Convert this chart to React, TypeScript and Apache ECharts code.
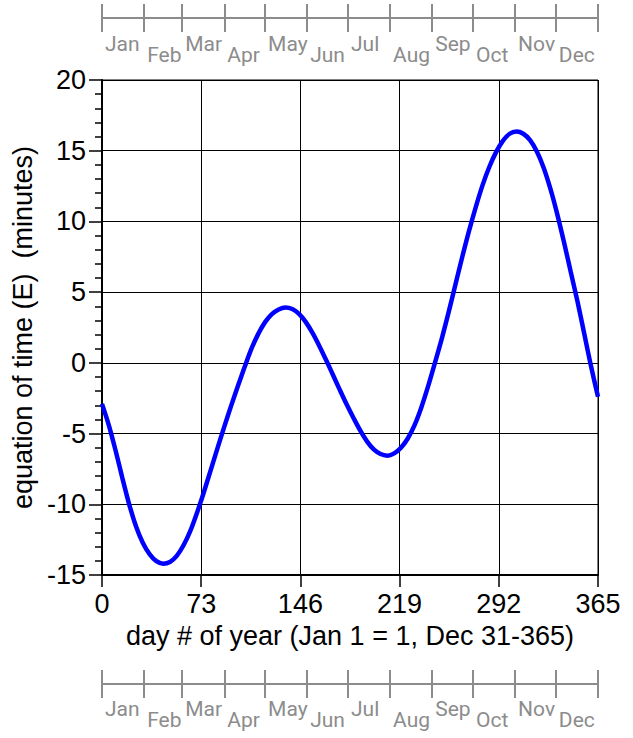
import React, { useEffect, useRef } from "react";
import * as echarts from "echarts";

// Day of year (every 5 days) and equation of time (minutes)
const DAYS = [
  0, 5, 10, 15, 20, 25, 30, 35, 40, 45, 50, 55, 60, 65, 70, 75, 80, 85, 90, 95,
  100, 105, 110, 115, 120, 125, 130, 135, 140, 145, 150, 155, 160, 165, 170,
  175, 180, 185, 190, 195, 200, 205, 210, 215, 220, 225, 230, 235, 240, 245,
  250, 255, 260, 265, 270, 275, 280, 285, 290, 295, 300, 305, 310, 315, 320,
  325, 330, 335, 340, 345, 350, 355, 360, 365,
];
const EOT = [
  -2.9, -4.4, -6.2, -8.15, -10.0, -11.55, -12.72, -13.52, -14.02, -14.2,
  -14.08, -13.65, -12.9, -11.88, -10.58, -9.13, -7.58, -6.03, -4.51, -3.04,
  -1.64, -0.28, 1.0, 2.05, 2.88, 3.45, 3.78, 3.92, 3.81, 3.46, 2.88, 2.1, 1.18,
  0.18, -0.86, -1.91, -2.93, -3.88, -4.78, -5.55, -6.12, -6.45, -6.56, -6.4,
  -6.0, -5.35, -4.4, -3.15, -1.65, 0.0,
  1.7, 3.55, 5.5, 7.45, 9.3, 11.0, 12.55, 13.85, 14.9, 15.7, 16.2, 16.35,
  16.2, 15.75, 14.95, 13.8, 12.3, 10.52, 8.52, 6.4, 4.3, 2.0, -0.3, -2.4,
];

const X_MIN = 0;
const X_MAX = 365;
const X_STEP = 73;
const Y_MIN = -15;
const Y_MAX = 20;
const Y_STEP = 5;

const MONTHS = ["Jan", "Feb", "Mar", "Apr", "May", "Jun", "Jul", "Aug", "Sep", "Oct", "Nov", "Dec"];
const MONTH_STARTS = [0, 31, 59, 90, 120, 151, 181, 212, 243, 273, 304, 334];
const MONTH_EDGES = [...MONTH_STARTS, 365];

const X_NAME = "day # of year (Jan 1 = 1, Dec 31-365)";
const Y_NAME = "equation of time (E)  (minutes)";

const GRAY = "#8c8c8c";
const MAIN_FONT = "'Liberation Sans', Arial, Helvetica, sans-serif";
const MONTH_FONT = "Roboto, 'Liberation Sans', sans-serif";

function monthAxes(gridIndex: number, hiMargin: number, loMargin: number) {
  const hi = MONTH_STARTS.filter((_, i) => i % 2 === 0);
  const lo = MONTH_STARTS.filter((_, i) => i % 2 === 1);
  const fmt = (v: number) => MONTHS[MONTH_STARTS.indexOf(v)] ?? "";
  const base = {
    gridIndex,
    type: "value",
    min: X_MIN,
    max: X_MAX,
    position: "bottom",
    splitLine: { show: false },
    silent: true,
  };
  const labelStyle = {
    show: true,
    align: "left",
    color: GRAY,
    fontSize: 21,
    fontFamily: MONTH_FONT,
    padding: [0, 0, 0, 3],
    formatter: fmt,
  };
  return [
    {
      ...base,
      axisLine: { show: true, lineStyle: { color: GRAY, width: 2 } },
      axisTick: { show: true, inside: false, length: 14, customValues: MONTH_EDGES, lineStyle: { color: GRAY, width: 2 } },
      axisLabel: { ...labelStyle, customValues: hi, margin: hiMargin },
    },
    {
      ...base,
      axisLine: { show: false },
      axisTick: { show: true, inside: true, length: 14, customValues: MONTH_EDGES, lineStyle: { color: GRAY, width: 2 } },
      axisLabel: { show: false },
    },
    {
      ...base,
      axisLine: { show: false },
      axisTick: { show: false },
      axisLabel: { ...labelStyle, customValues: lo, margin: loMargin },
    },
  ];
}

export default function App() {
  const ref = useRef<HTMLDivElement>(null);
  useEffect(() => {
    if (!ref.current) return;
    const chart = echarts.init(ref.current, null, { renderer: "svg" });
    const data = DAYS.map((d, i) => [d, EOT[i]]);
    chart.setOption({
      animation: false,
      backgroundColor: "#ffffff",
      grid: [
        { left: 102, right: 35, top: 80, bottom: 163, show: true, borderColor: "#000", borderWidth: 1, containLabel: false },
        { left: 102, right: 35, top: 18, height: 0 },
        { left: 102, right: 35, top: 684, height: 0 },
      ],
      xAxis: [
        {
          gridIndex: 0,
          type: "value",
          min: X_MIN,
          max: X_MAX,
          interval: X_STEP,
          position: "bottom",
          axisLine: { show: true, onZero: false, lineStyle: { color: "#000", width: 2 } },
          axisTick: { show: true, length: 12, lineStyle: { color: "#000", width: 1.5 } },
          axisLabel: { fontSize: 27, color: "#000", fontFamily: MAIN_FONT, margin: 15 },
          splitLine: { show: true, lineStyle: { color: "#000", width: 1 } },
          name: X_NAME,
          nameLocation: "middle",
          nameGap: 47,
          nameTextStyle: { fontSize: 27, color: "#000", fontFamily: MAIN_FONT },
        },
        ...monthAxes(1, 15, 26),
        ...monthAxes(2, 14, 25),
      ],
      yAxis: [
        {
          gridIndex: 0,
          type: "value",
          min: Y_MIN,
          max: Y_MAX,
          interval: Y_STEP,
          axisLine: { show: true, onZero: false, lineStyle: { color: "#000", width: 2 } },
          axisTick: { show: true, length: 13, lineStyle: { color: "#000", width: 1.5 } },
          minorTick: { show: true, splitNumber: 5, length: 7, lineStyle: { color: "#000", width: 1.5 } },
          axisLabel: { fontSize: 27, color: "#000", fontFamily: MAIN_FONT, margin: 16 },
          splitLine: { show: true, lineStyle: { color: "#000", width: 1 } },
          name: Y_NAME,
          nameLocation: "middle",
          nameGap: 57,
          nameTextStyle: { fontSize: 27, color: "#000", fontFamily: MAIN_FONT },
        },
        { gridIndex: 1, type: "value", min: 0, max: 1, show: false },
        { gridIndex: 2, type: "value", min: 0, max: 1, show: false },
      ],
      series: [
        {
          type: "line",
          xAxisIndex: 0,
          yAxisIndex: 0,
          data,
          showSymbol: false,
          smooth: 0.3,
          clip: true,
          lineStyle: { color: "#0000ff", width: 4.5 },
        },
      ],
    });
    return () => chart.dispose();
  }, []);
  return (
    <div
      ref={ref}
      style={{ position: "absolute", left: 0, top: 0, width: 633, height: 738 }}
    />
  );
}
